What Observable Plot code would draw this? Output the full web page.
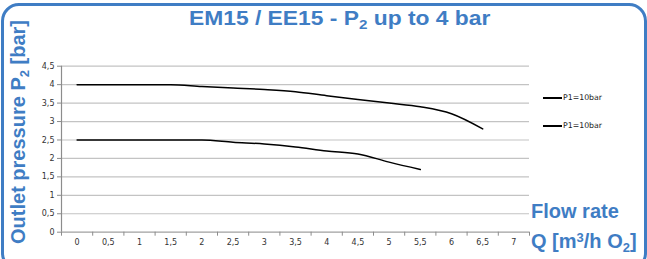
<!DOCTYPE html>
<html>
<head>
<meta charset="utf-8">
<script src="https://cdn.jsdelivr.net/npm/d3@7"></script>
<script src="https://cdn.jsdelivr.net/npm/@observablehq/plot@0.6"></script>
<style>
  html, body { margin: 0; padding: 0; background: #fff; }
  #wrap { position: relative; width: 647px; height: 259px; overflow: hidden; font-family: "Liberation Sans", Arial, sans-serif; }
  #frame { position: absolute; left: 1px; top: 3px; width: 640px; height: 262px; border: 3px solid #3f7dc4; border-radius: 18px; box-sizing: content-box; }
  .blue { position: absolute; color: #3f7dc4; font-weight: bold; font-size: 20px; white-space: nowrap; line-height: 1; }
  .blue sub { font-size: 13px; vertical-align: -4px; }
  .blue sup { font-size: 13px; vertical-align: 6px; line-height: 0; }
  #title { left: 189px; top: 9px; font-size: 19.5px; transform-origin: 0 0; transform: scaleX(1.17); }
  #ylab { left: 31px; top: 132px; transform-origin: 0 0; transform: rotate(-90deg) translate(-50%, -100%); }
  #flow1 { left: 531px; top: 201px; }
  #flow2 { left: 531px; top: 231px; }
  .leg { position: absolute; left: 543px; font-size: 7.8px; color: #222; white-space: nowrap; font-family: "DejaVu Sans", sans-serif; }
  .leg span.ln { display: inline-block; width: 19px; border-top: 2px solid #000; vertical-align: middle; margin-right: 1px; }
  #plot { position: absolute; left: 0; top: 0; }
</style>
</head>
<body>
<div id="wrap">
  <div id="plot"></div>
  <div id="frame"></div>
  <div id="title" class="blue">EM15 / EE15 - P<sub>2</sub> up to 4 bar</div>
  <div id="ylab" class="blue">Outlet pressure P<sub>2</sub> [bar]</div>
  <div id="flow1" class="blue">Flow rate</div>
  <div id="flow2" class="blue">Q [m<sup>3</sup>/h O<sub>2</sub>]</div>
  <div class="leg" style="top:93px"><span class="ln"></span>P1=10bar</div>
  <div class="leg" style="top:121px"><span class="ln"></span>P1=10bar</div>
</div>
<script>
const xTickLabels = [0, 0.5, 1, 1.5, 2, 2.5, 3, 3.5, 4, 4.5, 5, 5.5, 6, 6.5, 7];
const yTickLabels = [0, 0.5, 1, 1.5, 2, 2.5, 3, 3.5, 4, 4.5];
const seriesNames = ["P1=10bar", "P1=10bar"];
const flowTop = [0, 0.5, 1, 1.5, 2, 2.5, 3, 3.5, 4, 4.5, 5, 5.5, 6, 6.5];
const pressureTop = [4, 4, 4, 4, 3.95, 3.91, 3.87, 3.81, 3.7, 3.6, 3.5, 3.4, 3.21, 2.8];
const flowBottom = [0, 0.5, 1, 1.5, 2, 2.5, 3, 3.5, 4, 4.5, 5, 5.5];
const pressureBottom = [2.5, 2.5, 2.5, 2.5, 2.5, 2.44, 2.39, 2.31, 2.2, 2.12, 1.9, 1.7];

const topData = flowTop.map((q, i) => ({q, p: pressureTop[i], s: 0}));
const bottomData = flowBottom.map((q, i) => ({q, p: pressureBottom[i], s: 1}));
const boundaries = xTickLabels.map(v => v - 0.25).concat([7.25]);
const fmt = d => String(d).replace(".", ",");

const chart = Plot.plot({
  width: 647,
  height: 259,
  marginLeft: 61,
  marginRight: 118,
  marginTop: 65.7,
  marginBottom: 27.3,
  style: { fontFamily: "'DejaVu Sans', sans-serif", background: "transparent" },
  x: { domain: [-0.25, 7.25] },
  y: { domain: [0, 4.5] },
  marks: [
    Plot.ruleY(yTickLabels.filter(d => d > 0), { stroke: "#c3c3c3", strokeWidth: 1.2 }),
    Plot.ruleY([0], { stroke: "#a0a0a0", strokeWidth: 1.2 }),
    Plot.ruleX([-0.25], { stroke: "#8c8c8c", strokeWidth: 1.2 }),
    Plot.axisY(yTickLabels, { tickSize: 4, tickPadding: 3, tickFormat: fmt, fontSize: 8, fill: "#333", stroke: "#8c8c8c", label: null }),
    Plot.axisX(boundaries, { tickSize: 4, tickFormat: () => "", stroke: "#8c8c8c", label: null }),
    Plot.axisX(xTickLabels, { tickSize: 0, tickPadding: 7.5, tickFormat: fmt, fontSize: 8, fill: "#333", label: null }),
    Plot.line(topData, { x: "q", y: "p", stroke: "#000", strokeWidth: 1.5, curve: "monotone-x" }),
    Plot.line(bottomData, { x: "q", y: "p", stroke: "#000", strokeWidth: 1.5, curve: "monotone-x" })
  ]
});
document.getElementById("plot").appendChild(chart);
</script>
</body>
</html>
